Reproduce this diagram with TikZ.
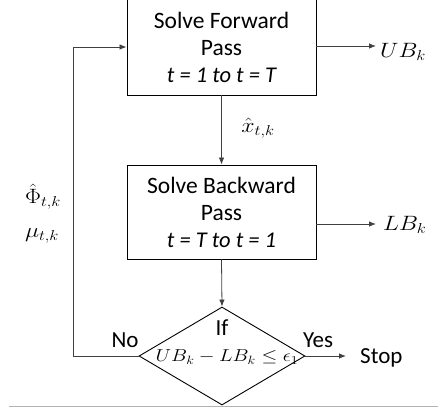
\documentclass[tikz,border=0pt]{standalone}
\usepackage{fontspec}
\setmainfont{Carlito}
\usetikzlibrary{shapes.geometric,arrows.meta}
\newcommand{\wm}[1]{\scalebox{1.15}[1]{$#1$}}
\begin{document}
\begin{tikzpicture}[x=1pt,y=-1pt,
  box/.style={draw=black,line width=0.9pt,minimum width=189pt,minimum height=96pt,inner sep=0pt,align=center,font=\fontsize{23.5}{27}\selectfont},
  conn/.style={draw=black!75,line width=0.8pt,-{Latex[length=7pt,width=5.5pt]}},
  lbl/.style={inner sep=0pt,font=\fontsize{23}{26}\selectfont},
  mlbl/.style={inner sep=0pt,font=\fontsize{20.74}{24}\selectfont}]
\useasboundingbox (0,0) rectangle (439,410);
\node[box] (fwd) at (221.5,47) {Solve Forward\\Pass\\{\fontsize{22.5}{26}\selectfont\itshape t = 1 to t = T}};
\node[box,minimum height=94pt] (bwd) at (221.5,212) {Solve Backward\\Pass\\{\fontsize{22.5}{26}\selectfont\itshape t = T to t = 1}};
\node[diamond,draw=black,line width=0.9pt,minimum width=166pt,minimum height=98pt,inner sep=0pt,aspect=1.7] (dec) at (222,356) {};
\node[lbl] (if) at (222,328) {If};
\node[inner sep=0pt,font=\fontsize{17.28}{21}\selectfont] (cond) at (227,357) {\scalebox{1.17}[1]{$UB_k-LB_k\le\epsilon_1$}};
\node[lbl] (no) at (125,340) {No};
\node[lbl] (yes) at (318,340) {Yes};
\node[lbl,anchor=west] (stop) at (360,358) {Stop};
\node[mlbl,anchor=west] (ub) at (380,52) {\wm{UB_k}};
\node[mlbl,anchor=west] (lb) at (383,225) {\wm{LB_k}};
\node[mlbl] (xh) at (258,128) {\wm{\hat{x}_{t,k}}};
\node[mlbl] (phi) at (43,197) {\wm{\hat{\Phi}_{t,k}}};
\node[mlbl] (mu) at (42,236) {\wm{\mu_{t,k}}};
\coordinate (fb) at (73,356);
\draw[conn] (fwd.south) -- (bwd.north);
\draw[conn] (bwd.south) -- (dec.north);
\draw[conn] (dec.west) -- (fb) |- (fwd.west);
\draw[conn,shorten >=4pt] (fwd.east |- 0,46) -- (ub.west |- 0,46);
\draw[conn,shorten >=7pt] (bwd.east |- 0,224) -- (lb.west |- 0,224);
\draw[conn,shorten >=14pt] (dec.east) -- (stop.west |- dec.east);
\draw[black!30,line width=0.8pt] (9,406) -- (438,406);
\end{tikzpicture}
\end{document}
